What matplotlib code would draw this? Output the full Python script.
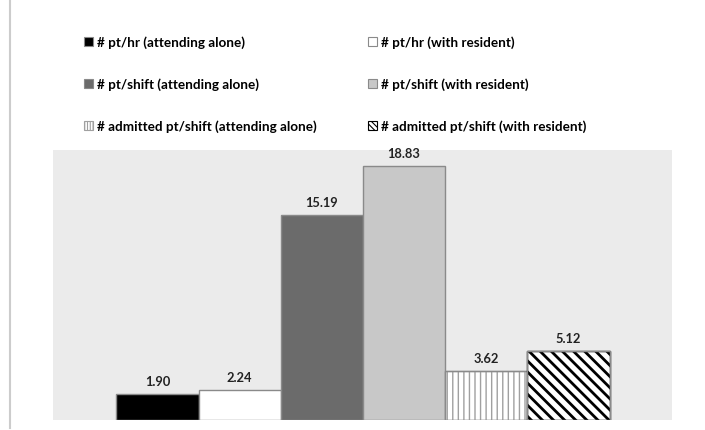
import matplotlib
matplotlib.use("Agg")
import matplotlib.pyplot as plt
from matplotlib.patches import Patch
from matplotlib.lines import Line2D

labels = ["# pt/hr (attending alone)", "# pt/hr (with resident)",
          "# pt/shift (attending alone)", "# pt/shift (with resident)",
          "# admitted pt/shift (attending alone)", "# admitted pt/shift (with resident)"]
values = [1.90, 2.24, 15.19, 18.83, 3.62, 5.12]
value_text = ["1.90", "2.24", "15.19", "18.83", "3.62", "5.12"]

faces = ["#000000", "#ffffff", "#6b6b6b", "#c8c8c8", "#ffffff", "#ffffff"]
hatches = [None, None, None, None, "|||", "\\\\\\"]
hatch_cols = [None, None, None, None, "#a0a0a0", "#000000"]
hatch_lw = [1.0, 1.0, 1.0, 1.0, 1.0, 2.0]

plt.rcParams["font.family"] = ["Lato", "DejaVu Sans"]

fig = plt.figure(figsize=(7.05, 4.3), dpi=100)
fig.patch.set_facecolor("white")
ax = fig.add_axes([53/705, 10/430, (672-53)/705, (420-150)/430])
ax.set_facecolor("#ebebeb")

x = list(range(len(values)))
for i, (xi, v) in enumerate(zip(x, values)):
    plt.rcParams["hatch.linewidth"] = hatch_lw[i]
    b = ax.bar(xi, v, width=1.0, color=faces[i],
               edgecolor=hatch_cols[i] or "#8a8a8a", linewidth=1.0,
               hatch=hatches[i], label=labels[i])
    if hatch_cols[i]:
        ax.bar(xi, v, width=1.0, fill=False, edgecolor="#8a8a8a", linewidth=1.0)
    ax.text(xi, v + 0.45, value_text[i], ha="center", va="bottom",
            fontsize=9.3, fontweight="bold", color="#222222")

# legend, order for 2 columns
order = [0, 2, 4, 1, 3, 5]
handles = []
for i in order:
    plt.rcParams["hatch.linewidth"] = 0.8
    hp = hatches[i]
    if hp == "|||":
        hp = "||||||"
    elif hp:
        hp = "\\\\\\\\\\\\"
    handles.append(Patch(facecolor=faces[i], edgecolor=hatch_cols[i] or "#8a8a8a",
                         hatch=hp, linewidth=0.8))
leg = fig.legend(handles, [labels[i] for i in order], ncol=2,
                 loc="upper left", bbox_to_anchor=(84/705, 1 - 36/430),
                 frameon=False, handlelength=0.65, handleheight=0.65,
                 handletextpad=0.3, labelspacing=2.18, columnspacing=3.85,
                 borderpad=0, borderaxespad=0,
                 prop={"weight": "bold", "size": 9.7})

ax.set_xlim(-1.27, 6.26)
ax.set_ylim(0, 20)
ax.set_xticks([])
ax.set_yticks([])
for s in ax.spines.values():
    s.set_visible(False)

fig.add_artist(Line2D([10/705, 10/705], [2/430, 1.0], transform=fig.transFigure,
                      color="#cccccc", linewidth=1.5))

fig.savefig("out.png", dpi=100)
